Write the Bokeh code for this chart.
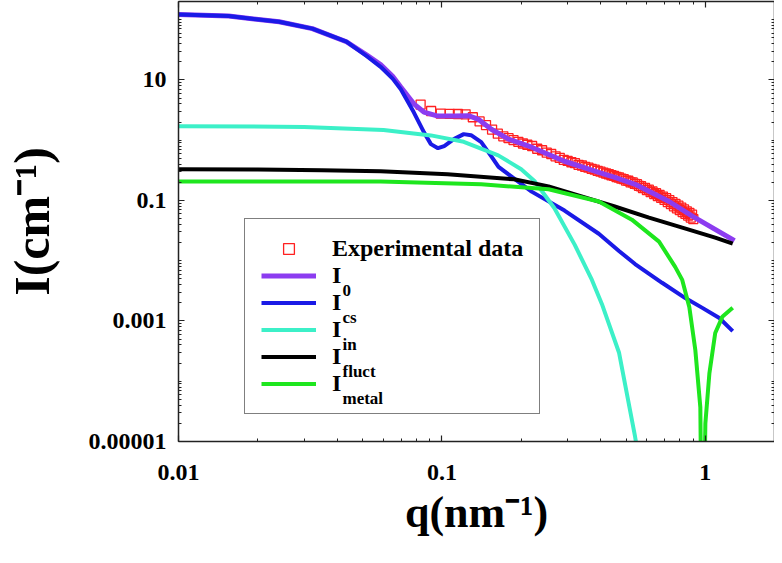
from bokeh.plotting import figure
from bokeh.models import LogAxis, FixedTicker, Legend, LegendItem, Label, Range1d
from bokeh.embed import file_html
from bokeh.resources import INLINE

# ---------------- data ----------------
q_exp = [0.083, 0.091, 0.099, 0.107, 0.115, 0.123, 0.131, 0.139, 0.147, 0.155,
         0.163, 0.171, 0.179, 0.187, 0.195, 0.203, 0.211,
         0.22, 0.23, 0.24, 0.25, 0.26, 0.27, 0.28, 0.29, 0.30, 0.31, 0.32, 0.33,
         0.34, 0.35, 0.36, 0.37, 0.38, 0.39, 0.40, 0.41, 0.42, 0.43, 0.44, 0.45,
         0.46, 0.47, 0.48, 0.49, 0.50, 0.51, 0.52, 0.53, 0.54, 0.55, 0.56, 0.57,
         0.58, 0.59, 0.60, 0.61, 0.62, 0.63, 0.64, 0.65, 0.66, 0.67, 0.68, 0.69,
         0.70, 0.71, 0.72, 0.73, 0.74, 0.75, 0.76, 0.77, 0.78, 0.79, 0.80, 0.81,
         0.82, 0.83, 0.84, 0.85, 0.86, 0.87, 0.88, 0.89, 0.90]
i_exp = [3.9, 3.05, 2.75, 2.74, 2.72, 2.68, 2.4, 2.05, 1.78, 1.5,
         1.28, 1.16, 1.08, 1.0, 0.94, 0.88, 0.84,
         0.80, 0.72, 0.68, 0.62, 0.59, 0.54, 0.51, 0.47, 0.455, 0.43, 0.415, 0.39,
         0.38, 0.36, 0.35, 0.335, 0.325, 0.31, 0.30, 0.29, 0.28, 0.272, 0.262, 0.256,
         0.245, 0.240, 0.230, 0.225, 0.214, 0.212, 0.200, 0.199, 0.188, 0.186, 0.174, 0.172,
         0.160, 0.162, 0.148, 0.151, 0.137, 0.141, 0.127, 0.132, 0.118, 0.124, 0.110, 0.116,
         0.102, 0.109, 0.094, 0.101, 0.087, 0.094, 0.080, 0.088, 0.074, 0.082, 0.069, 0.076,
         0.064, 0.071, 0.060, 0.066, 0.056, 0.062, 0.052, 0.058, 0.049]

q_i0 = [0.01, 0.0155, 0.0241, 0.0322, 0.0434, 0.0517, 0.0585, 0.065, 0.0698, 0.0782,
        0.0854, 0.0966, 0.111, 0.126, 0.137, 0.154, 0.179, 0.219, 0.292, 0.394,
        0.453, 0.541, 0.729, 0.892, 1.29]
i_i0 = [122, 115, 92, 71, 43, 26, 18, 11.5, 7.6, 4.0,
        2.93, 2.51, 2.51, 2.55, 2.24, 1.52, 1.04, 0.764, 0.447, 0.293,
        0.242, 0.185, 0.096, 0.055, 0.0215]

q_cs = [0.01, 0.0155, 0.0241, 0.0322, 0.0434, 0.0517, 0.0585, 0.065, 0.0698, 0.0782,
        0.0854, 0.0908, 0.0966, 0.102, 0.111, 0.121, 0.129, 0.141, 0.154, 0.164,
        0.179, 0.219, 0.292, 0.394, 0.470, 0.541, 0.685, 0.839, 0.974, 1.13, 1.27]
i_cs = [122, 115, 92, 71, 43, 25, 16.5, 10.5, 7.0, 2.9,
        1.36, 0.86, 0.735, 0.80, 1.04, 1.26, 1.21, 0.93, 0.54, 0.36,
        0.27, 0.14, 0.068, 0.028, 0.0145, 0.0088, 0.0043, 0.0024, 0.00165, 0.00112, 0.00068]

q_in = [0.01, 0.03, 0.06, 0.0908, 0.121, 0.1636, 0.200, 0.2245, 0.267, 0.319,
        0.371, 0.405, 0.470, 0.541, 0.58]
i_in = [1.71, 1.66, 1.48, 1.2, 0.94, 0.56, 0.33, 0.21, 0.075, 0.0185,
        0.0048, 0.0019, 0.00030, 1.2e-5, 2e-6]

q_fl = [0.01, 0.02, 0.035, 0.0585, 0.105, 0.188, 0.254, 0.339, 0.453, 0.611, 0.817, 1.09, 1.27]
i_fl = [0.329, 0.326, 0.318, 0.304, 0.271, 0.224, 0.171, 0.117, 0.0794, 0.052, 0.0355, 0.0242, 0.0192]

q_me = [0.01, 0.0585, 0.141, 0.254, 0.394, 0.526, 0.667, 0.768, 0.817, 0.869,
        0.916, 0.957, 0.975, 1.0, 1.036, 1.09, 1.16, 1.27]
i_me = [0.207, 0.207, 0.185, 0.153, 0.096, 0.048, 0.0207, 0.0079, 0.0048, 0.00171,
        0.00033, 3.7e-5, 1e-8, 2e-5, 1.36e-4, 6.3e-4, 0.00117, 0.00165]

x_ticks = [0.01, 0.1, 1]
x_tick_labels = ["0.01", "0.1", "1"]
y_ticks = [1e-5, 1e-3, 0.1, 10]
y_tick_labels = ["0.00001", "0.001", "0.1", "10"]

legend_labels = ["Experimental data", "I", "I", "I", "I", "I"]
legend_subs = ["0", "cs", "in", "fluct", "metal"]

# ---------------- styling ----------------
FONT = "Liberation Serif"
C_EXP = "#ff2020"
C_I0 = "#8c3cf0"
C_CS = "#1a1ae6"
C_IN = "#3cf0c8"
C_FL = "#000000"
C_ME = "#1ee61e"

p = figure(width=774, height=547, x_axis_type="log", y_axis_type="log",
           x_range=Range1d(0.01, 1.83), y_range=Range1d(1e-5, 200),
           output_backend="svg", toolbar_location=None,
           min_border_left=175, min_border_right=0, min_border_top=1,
           min_border_bottom=106)
p.xgrid.visible = False
p.ygrid.visible = False
p.outline_line_color = None
p.background_fill_color = "white"

x_minor = [k * 10.0 ** e for e in (-2, -1, 0) for k in range(2, 10)]
y_minor = [k * 10.0 ** e for e in range(-5, 3) for k in range(1, 10)]
xt = FixedTicker(ticks=x_ticks, minor_ticks=x_minor)
yt = FixedTicker(ticks=y_ticks, minor_ticks=y_minor)


def style_axis(ax, labels):
    ax.axis_line_color = "#222222"
    ax.axis_line_width = 1.5
    ax.major_tick_line_color = "#222222"
    ax.minor_tick_line_color = "#222222"
    ax.major_tick_line_width = 1.2
    ax.minor_tick_line_width = 1
    ax.major_tick_in = 6
    ax.major_tick_out = 0
    ax.minor_tick_in = 3
    ax.minor_tick_out = 0
    if not labels:
        ax.major_label_text_font_size = "1px"
        ax.major_label_text_alpha = 0
        ax.major_label_standoff = 0


xa = p.xaxis[0]
xa.ticker = xt
xa.major_label_overrides = {v: s for v, s in zip(x_ticks, x_tick_labels)}
style_axis(xa, True)
xa.major_label_text_font = FONT
xa.major_label_text_font_style = "bold"
xa.major_label_text_font_size = "24px"
xa.major_label_text_color = "black"
xa.major_label_standoff = 23
xa.axis_label = "q(nm\u207b\u00b9)"
xa.axis_label_text_font = FONT
xa.axis_label_text_font_style = "bold"
xa.axis_label_text_font_size = "44px"
xa.axis_label_text_color = "black"
xa.axis_label_standoff = 5

ya = p.yaxis[0]
ya.ticker = yt
ya.major_label_overrides = {v: s for v, s in zip(y_ticks, y_tick_labels)}
style_axis(ya, True)
ya.major_label_text_font = FONT
ya.major_label_text_font_style = "bold"
ya.major_label_text_font_size = "24px"
ya.major_label_text_color = "black"
ya.major_label_standoff = 12
ya.axis_label = "I(cm\u207b\u00b9)"
ya.axis_label_text_font = FONT
ya.axis_label_text_font_style = "bold"
ya.axis_label_text_font_size = "50px"
ya.axis_label_text_color = "black"
ya.axis_label_standoff = 26

top = LogAxis(ticker=xt)
style_axis(top, False)
p.add_layout(top, "above")
right = LogAxis(ticker=yt)
style_axis(right, False)
p.add_layout(right, "right")

# ---------------- glyphs ----------------
r_exp = p.scatter(q_exp, i_exp, marker="square", size=9, fill_color=None,
                  line_color=C_EXP, line_width=1.3)
r_i0 = p.line(q_i0, i_i0, line_color=C_I0, line_width=5)
r_cs = p.line(q_cs, i_cs, line_color=C_CS, line_width=4)
r_in = p.line(q_in, i_in, line_color=C_IN, line_width=4)
r_fl = p.line(q_fl, i_fl, line_color=C_FL, line_width=4)
r_me = p.line(q_me, i_me, line_color=C_ME, line_width=4)

renderers = [r_exp, r_i0, r_cs, r_in, r_fl, r_me]
items = [LegendItem(label=lbl, renderers=[r]) for lbl, r in zip(legend_labels, renderers)]
legend = Legend(items=items, location=(66, 27),
                border_line_color="black", border_line_width=1.5,
                background_fill_color="white", background_fill_alpha=0,
                label_text_font=FONT, label_text_font_style="bold",
                label_text_font_size="24px", label_text_color="black",
                glyph_width=55, glyph_height=27, label_height=27,
                spacing=0, padding=16, label_standoff=16, margin=0)
p.add_layout(legend)

# subscripts of the legend labels (screen units, relative to the frame)
for k, sub in enumerate(legend_subs):
    p.add_layout(Label(x=164, y=151 - 27 * k, x_units="screen", y_units="screen",
                       text=sub, text_font=FONT, text_font_style="bold",
                       text_font_size="17px", text_color="black",
                       text_baseline="middle", text_align="left",
                       level="overlay"))

open("out.html", "w").write(file_html(p, INLINE))
